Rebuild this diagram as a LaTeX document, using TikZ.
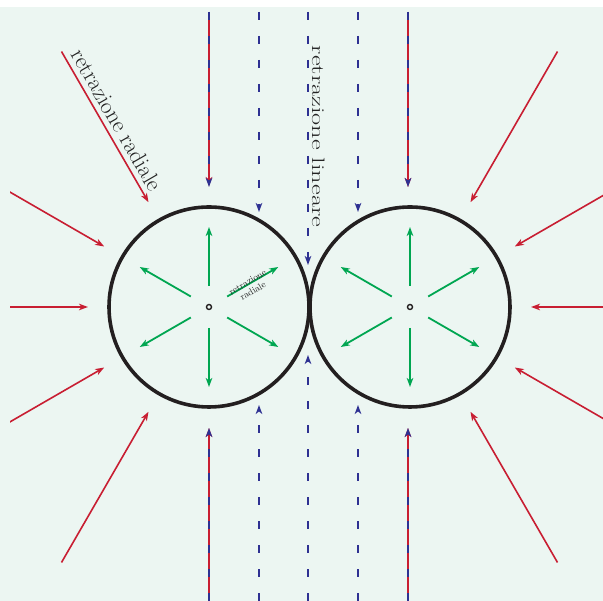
\documentclass[tikz,border=0pt]{standalone}
\usetikzlibrary{arrows.meta,calc}
\definecolor{bgmint}{RGB}{236,246,242}
\definecolor{redl}{RGB}{200,30,50}
\definecolor{bluel}{RGB}{46,49,146}
\definecolor{greenl}{RGB}{0,166,81}
\definecolor{ringc}{RGB}{35,31,32}
\definecolor{textc}{RGB}{35,35,35}
\begin{document}
\begin{tikzpicture}[x=1pt,y=1pt,
  ring/.style={circle,draw=ringc,line width=3.6pt,minimum size=200pt,inner sep=0pt},
  hub/.style={circle,draw=ringc,line width=1.4pt,minimum size=5pt,inner sep=0pt},
  redarrow/.style={draw=redl,line width=1.6pt,-{Stealth[length=9pt,width=6.5pt,inset=2.5pt]}},
  bluearrow/.style={draw=bluel,line width=1.9pt,dash pattern=on 8pt off 16pt,-{Stealth[length=9pt,width=6.5pt,inset=2.5pt]}},
  greenarrow/.style={draw=greenl,line width=1.8pt,-{Stealth[length=9pt,width=6.5pt,inset=2.5pt]}},
  biglabel/.style={text=textc,font=\fontsize{23}{27}\selectfont,inner sep=0pt},
  linlabel/.style={text=textc,font=\fontsize{18}{22}\selectfont,inner sep=0pt},
  smalllabel/.style={text=textc,font=\fontsize{9.5}{10.5}\selectfont,inner sep=0pt,align=center}
]
\useasboundingbox (0,0) rectangle (603,601);
\fill[bgmint] (0,0) rectangle (603,594);
\coordinate (cL) at (209,294);
\coordinate (cR) at (410,294);
% red radial arrows
\begin{scope}
  \clip (10,0) rectangle (603,589);
  \foreach \a in {90,120,150,180,210,240,270}
    \draw[redarrow] ($(cL)+(\a:295)$) -- ($(cL)+(\a:121)$);
  \foreach \a in {-60,-30,0,30,60}
    \draw[redarrow] ($(cR)+(\a:295)$) -- ($(cR)+(\a:121)$);
  \draw[redarrow] (408,589) -- (408,414);
  \draw[redarrow] (408,0) -- (408,173);
\end{scope}
% blue dashed arrows
\coordinate (t1) at (209,589); \coordinate (e1) at (209,414);
\coordinate (t2) at (259,589); \coordinate (e2) at (259,389);
\coordinate (t3) at (308,589); \coordinate (e3) at (308,336);
\coordinate (t4) at (358,589); \coordinate (e4) at (358,389);
\coordinate (t5) at (408,589); \coordinate (e5) at (408,414);
\coordinate (b1) at (209,0); \coordinate (f1) at (209,173);
\coordinate (b2) at (259,0); \coordinate (f2) at (259,196);
\coordinate (b3) at (308,0); \coordinate (f3) at (308,246);
\coordinate (b4) at (358,0); \coordinate (f4) at (358,196);
\coordinate (b5) at (408,0); \coordinate (f5) at (408,173);
\foreach \i in {1,...,5} {
  \draw[bluearrow] (t\i) -- (e\i);
  \draw[bluearrow] (b\i) -- (f\i);
}
% green arrows
\foreach \a in {90,30,-30,-90,150,210} {
  \draw[greenarrow] ($(cL)+(\a:21)$) -- ($(cL)+(\a:80)$);
  \draw[greenarrow] ($(cR)+(\a:21)$) -- ($(cR)+(\a:80)$);
}
% circles
\node[ring] (L) at (cL) {};
\node[ring] (R) at (cR) {};
\node[hub] (hL) at (cL) {};
\node[hub] (hR) at (cR) {};
% labels
\node[biglabel,rotate=-60,anchor=base] (lrad) at ($(cL)+(120:208)+(30:6)$) {retrazione radiale};
\node[linlabel,rotate=-90,anchor=base] (llin) at (312,464.5) {\scalebox{1.46}[1]{retrazione lineare}};
\node[smalllabel,rotate=30] (lsmall) at ($(cL)+(30:46)+(300:3)$) {retrazione\\radiale};
\end{tikzpicture}
\end{document}
